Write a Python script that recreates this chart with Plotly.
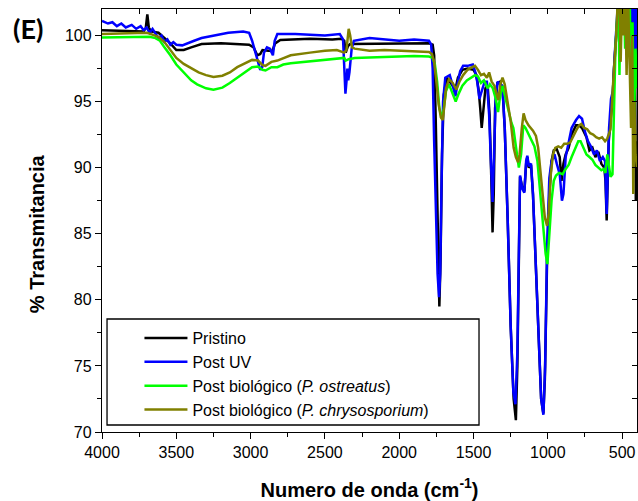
import plotly.graph_objects as go

# ---------------- data ----------------
wn_pristino = [4000, 3900, 3800, 3720, 3705, 3695, 3685, 3670, 3620, 3580, 3540, 3500, 3450, 3400, 3330,
               3200, 3100, 3010, 2980, 2955, 2935, 2920, 2880, 2855, 2835, 2800, 2600, 2450, 2390, 2370,
               2360, 2345, 2330, 2200, 2000, 1900, 1800, 1775, 1765, 1755, 1745, 1735, 1730, 1722, 1712,
               1700, 1680, 1660, 1640, 1622, 1605, 1575, 1540, 1500, 1480, 1465, 1455, 1445, 1435, 1420,
               1405, 1392, 1380, 1372, 1364, 1355, 1340, 1322, 1305, 1290, 1270, 1250, 1230, 1215, 1205,
               1195, 1187, 1172, 1158, 1146, 1138, 1128, 1113, 1100, 1080, 1060, 1045, 1030, 1020, 1005,
               990, 975, 960, 940, 920, 908, 895, 880, 860, 840, 810, 790, 770, 740, 720,
               700, 680, 660, 640, 620, 612, 604, 598, 590, 578, 565, 555, 545, 535, 525,
               515, 505, 495, 485, 475, 465, 455, 445, 435, 425, 415, 408, 400]
t_pristino = [100.4, 100.35, 100.3, 100.3, 100.6, 101.6, 100.6, 100.3, 100.2, 99.8, 99.4, 98.9, 98.9, 99.1, 99.35,
              99.4, 99.35, 99.3, 99.1, 98.5, 98.6, 98.9, 98.85, 98.8, 99.4, 99.65, 99.75, 99.7, 99.75, 99.6,
              98.7, 99.2, 99.35, 99.35, 99.4, 99.35, 99.4, 99.3, 98.5, 94.0, 87.0, 80.5, 79.5, 83.0, 91.0,
              95.5, 96.8, 96.5, 96.2, 95.9, 96.8, 97.4, 97.5, 97.4, 97.0, 95.8, 94.5, 93.0, 94.2, 96.0,
              96.2, 94.0, 89.0, 85.1, 88.0, 94.5, 96.4, 96.5, 96.0, 93.0, 86.0, 78.0, 72.5, 70.9, 75.0,
              85.0, 89.3, 88.5, 88.2, 90.3, 90.8, 90.0, 90.2, 88.0, 82.0, 76.0, 72.5, 71.4, 74.0, 83.0,
              88.0, 90.5, 91.3, 91.4, 90.8, 89.0, 90.3, 91.0, 91.5, 92.5, 93.2, 93.2, 93.0, 92.3, 91.3,
              91.5, 90.8, 91.2, 90.3, 90.0, 89.0, 86.0, 89.0, 92.0, 93.6, 95.0, 97.5, 99.5, 101.5, 103.0,
              104.0, 103.0, 101.0, 104.0, 102.0, 104.0, 103.0, 99.0, 104.0, 97.0, 103.0, 87.5, 92.0]

wn_uv = [4000, 3960, 3930, 3900, 3870, 3840, 3800, 3770, 3740, 3720, 3700, 3680, 3660, 3640, 3620,
         3600, 3580, 3560, 3540, 3520, 3500, 3460, 3420, 3380, 3330, 3250, 3150, 3050, 3010, 2990,
         2970, 2950, 2935, 2922, 2910, 2890, 2870, 2850, 2838, 2820, 2700, 2500, 2400, 2378, 2370,
         2362, 2355, 2349, 2343, 2335, 2320, 2305, 2200, 2100, 2000, 1900, 1800, 1785, 1775, 1765,
         1752, 1742, 1732, 1724, 1715, 1705, 1690, 1660, 1640, 1622, 1610, 1590, 1570, 1540, 1505,
         1490, 1475, 1460, 1450, 1440, 1425, 1410, 1395, 1385, 1372, 1362, 1350, 1338, 1322, 1306,
         1290, 1270, 1250, 1232, 1218, 1205, 1195, 1187, 1172, 1158, 1146, 1138, 1128, 1113, 1100,
         1080, 1060, 1045, 1030, 1018, 1005, 990, 975, 955, 940, 920, 905, 895, 880, 860,
         840, 810, 790, 770, 750, 730, 710, 690, 670, 650, 630, 615, 604, 597, 588,
         575, 562, 550, 540, 530, 520, 510, 500, 490, 480, 470, 460, 450, 440, 430,
         420, 412, 405, 400]
t_uv = [101.1, 100.9, 101.0, 100.7, 100.9, 100.6, 100.8, 100.5, 100.7, 100.4, 100.6, 100.2, 100.5, 100.1, 99.8,
        100.0, 99.5, 99.7, 99.3, 99.5, 99.3, 99.25, 99.4, 99.6, 99.8, 100.0, 100.2, 100.3, 100.2, 99.6,
        98.8, 98.2, 97.4, 97.6, 98.7, 99.1, 99.0, 98.5, 99.6, 100.1, 100.1, 100.0, 100.1, 99.7, 98.0,
        95.6, 96.5, 97.5, 96.6, 97.2, 99.0, 99.6, 99.8, 99.7, 99.6, 99.7, 99.6, 99.3, 97.5, 92.0,
        86.0, 82.0, 80.2, 82.0, 89.0, 95.0, 96.8, 97.0, 96.2, 95.4, 96.2, 97.3, 97.7, 97.7, 97.8,
        97.3, 96.5, 95.2, 95.6, 95.9, 96.5, 96.5, 94.0, 91.0, 87.4, 91.0, 95.5, 96.5, 96.3, 96.2,
        93.0, 86.0, 78.0, 73.0, 72.1, 76.0, 84.0, 89.4, 88.4, 88.1, 90.5, 90.9, 90.1, 90.3, 88.0,
        82.0, 76.0, 72.5, 71.3, 75.0, 84.0, 89.2, 90.5, 91.0, 90.3, 89.5, 87.5, 88.0, 90.8, 91.8,
        93.0, 93.6, 93.9, 93.7, 92.7, 92.0, 91.6, 91.0, 91.3, 90.5, 90.8, 90.5, 86.5, 89.5, 93.0,
        95.2, 95.8, 98.5, 101.0, 103.0, 104.0, 103.0, 104.0, 102.0, 104.0, 103.0, 104.0, 102.0, 104.0, 101.0,
        103.0, 96.0, 102.0, 100.0]

wn_ostreatus = [4000, 3900, 3800, 3680, 3640, 3610, 3580, 3540, 3500, 3450, 3400, 3360, 3300, 3250, 3190,
                3140, 3090, 3040, 2990, 2950, 2920, 2900, 2860, 2820, 2780, 2730, 2600, 2500, 2400, 2370,
                2360, 2340, 2300, 2200, 2100, 2000, 1900, 1800, 1775, 1760, 1745, 1730, 1712, 1700, 1685,
                1665, 1640, 1620, 1600, 1575, 1545, 1510, 1490, 1470, 1450, 1430, 1405, 1390, 1370, 1350,
                1335, 1320, 1305, 1290, 1265, 1245, 1232, 1215, 1195, 1180, 1165, 1150, 1130, 1110, 1090,
                1070, 1050, 1030, 1015, 1003, 990, 975, 960, 945, 925, 900, 880, 860, 840, 815,
                795, 780, 760, 740, 720, 700, 680, 660, 640, 625, 612, 600, 590, 578, 565,
                555, 545, 535, 525, 518, 510, 500, 490, 480, 470, 460, 450, 440, 430, 420,
                410, 400]
t_ostreatus = [99.85, 99.85, 99.9, 99.9, 99.8, 99.6, 99.1, 98.5, 97.8, 97.2, 96.6, 96.3, 96.0, 95.9, 96.05,
               96.4, 96.8, 97.2, 97.6, 97.65, 97.4, 97.35, 97.6, 97.6, 97.8, 97.9, 98.05, 98.15, 98.25, 98.3,
               98.1, 98.2, 98.3, 98.35, 98.4, 98.4, 98.45, 98.4, 98.3, 97.8, 96.5, 94.5, 93.7, 94.5, 95.8,
               96.3, 95.6, 95.0, 95.6, 96.2, 96.6, 96.9, 97.0, 96.9, 96.4, 96.6, 96.0, 96.3, 96.0, 95.2,
               94.2, 95.5, 96.2, 95.5, 94.2, 93.4, 93.0, 91.5, 90.0, 91.0, 93.2, 93.0, 92.5, 92.0, 91.6,
               90.5, 88.0, 85.0, 83.5, 82.7, 85.0, 87.5, 89.0, 89.4, 89.6, 89.5, 89.9, 90.2, 90.8, 91.5,
               92.0, 92.0, 91.5, 91.0, 90.8, 90.6, 90.2, 90.0, 89.8, 89.9, 89.6, 91.0, 90.0, 89.3, 89.5,
               95.0, 99.0, 101.0, 103.0, 97.0, 103.0, 101.0, 104.0, 99.0, 103.0, 100.0, 104.0, 95.0, 101.0, 93.0,
               99.0, 96.0]

wn_chrysosporium = [4000, 3900, 3800, 3700, 3670, 3620, 3580, 3540, 3500, 3450, 3400, 3350, 3300, 3250, 3190,
                    3140, 3090, 3040, 2990, 2950, 2920, 2900, 2860, 2820, 2780, 2730, 2600, 2500, 2420, 2390,
                    2370, 2355, 2340, 2330, 2318, 2300, 2200, 2100, 2000, 1900, 1800, 1780, 1765, 1750, 1735,
                    1720, 1708, 1698, 1685, 1665, 1640, 1615, 1595, 1570, 1540, 1510, 1490, 1470, 1450, 1430,
                    1410, 1395, 1378, 1360, 1345, 1333, 1320, 1305, 1290, 1270, 1250, 1230, 1215, 1200, 1190,
                    1175, 1163, 1150, 1130, 1100, 1080, 1065, 1050, 1035, 1020, 1005, 995, 980, 965, 950,
                    930, 910, 890, 870, 850, 830, 810, 790, 775, 755, 735, 715, 695, 675, 655,
                    635, 615, 600, 590, 578, 565, 550, 540, 530, 520, 510, 500, 490, 480, 470,
                    460, 450, 440, 432, 425, 418, 410, 400]
t_chrysosporium = [100.1, 100.15, 100.2, 100.2, 100.1, 99.9, 99.5, 98.9, 98.3, 97.85, 97.5, 97.2, 97.0, 96.85, 96.95,
                   97.2, 97.6, 97.9, 98.15, 98.1, 97.75, 97.7, 98.0, 98.1, 98.3, 98.5, 98.7, 98.85, 98.9, 98.8,
                   98.7, 98.9, 100.5, 100.0, 99.1, 99.0, 98.85, 98.9, 98.85, 98.8, 98.75, 98.6, 98.0, 96.5, 94.8,
                   93.8, 93.6, 94.5, 96.0, 96.7, 96.4, 95.9, 96.5, 97.0, 97.4, 97.6, 97.7, 97.4, 97.0, 97.1,
                   96.8, 97.2, 96.5, 96.2, 95.5, 95.1, 96.3, 96.8, 96.3, 95.0, 93.5, 91.5, 90.8, 90.4, 91.0,
                   93.0, 94.1, 93.6, 93.2, 92.8, 92.4, 91.5, 90.0, 88.0, 86.2, 85.6, 86.5, 89.5, 91.0, 91.5,
                   91.6, 91.5, 91.8, 91.8, 91.9, 92.4, 92.8, 93.2, 93.3, 93.0, 92.9, 92.6, 92.5, 92.3, 92.2,
                   92.3, 92.0, 92.2, 92.5, 92.9, 95.6, 98.0, 100.0, 102.5, 104.0, 98.0, 103.0, 100.0, 104.0, 97.0,
                   103.0, 98.0, 93.0, 100.0, 88.0, 95.0, 91.0, 90.0]

series_names = ["Pristino", "Post UV",
                "Post biológico (<i>P. ostreatus</i>)",
                "Post biológico (<i>P. chrysosporium</i>)"]
series_x = [wn_pristino, wn_uv, wn_ostreatus, wn_chrysosporium]
series_y = [t_pristino, t_uv, t_ostreatus, t_chrysosporium]
series_colors = ["#000000", "#0000ff", "#00ff00", "#808000"]

x_ticks = [4000, 3500, 3000, 2500, 2000, 1500, 1000, 500]
y_ticks = [70, 75, 80, 85, 90, 95, 100]

# ---------------- figure ----------------
FONT = "Liberation Sans, Arial, sans-serif"
fig = go.Figure()
for name, xs, ys, col in zip(series_names, series_x, series_y, series_colors):
    fig.add_trace(go.Scatter(x=xs, y=ys, mode="lines", name=name,
                             line=dict(color=col, width=2.5)))

# dummy trace to activate the mirrored (top / right) axes with inward ticks
fig.add_trace(go.Scatter(x=[4000], y=[70], xaxis="x2", yaxis="y2", mode="lines",
                         showlegend=False, hoverinfo="skip"))

axis_common = dict(showgrid=False, zeroline=False, showline=True, linecolor="black",
                   linewidth=1.3, automargin=False)

fig.update_layout(
    template="none",
    width=638, height=501,
    margin=dict(l=102, r=1, t=9, b=69),
    paper_bgcolor="white", plot_bgcolor="white",
    font=dict(family=FONT, size=16, color="black"),
    xaxis=dict(range=[4000, 400], tickvals=x_ticks, ticks="outside", ticklen=6, tickwidth=1.3,
               tickcolor="black", tickfont=dict(size=16),
               minor=dict(dtick=250, tick0=0, ticks="outside", ticklen=4, tickwidth=1.3, tickcolor="black"),
               title=dict(text="<b>Numero de onda (cm<sup>-1</sup>)</b>", font=dict(size=20), standoff=22),
               **axis_common),
    yaxis=dict(range=[70, 102], tickvals=y_ticks, ticks="outside", ticklen=6, tickwidth=1.3,
               tickcolor="black", tickfont=dict(size=16),
               minor=dict(dtick=2.5, tick0=0, ticks="outside", ticklen=4, tickwidth=1.3, tickcolor="black"),
               **axis_common),
    xaxis2=dict(range=[4000, 400], overlaying="x", side="top", anchor="y2", showticklabels=False,
                dtick=250, tick0=0, ticks="inside", ticklen=5, tickwidth=1.3, tickcolor="black",
                **axis_common),
    yaxis2=dict(range=[70, 102], overlaying="y", side="right", anchor="x2", showticklabels=False,
                dtick=2.5, tick0=0, ticks="inside", ticklen=5, tickwidth=1.3, tickcolor="black",
                **axis_common),
    legend=dict(x=0.07, y=0.262, xanchor="left", yanchor="top", bgcolor="rgba(0,0,0,0)",
                borderwidth=0, font=dict(size=16, family=FONT), itemwidth=43, tracegroupgap=0),
    showlegend=True,
)

# legend frame (Origin-style wide box)
fig.add_shape(type="rect", xref="paper", yref="paper", x0=0.0094, x1=0.7047, y0=0.0166, y1=0.2671,
              line=dict(color="black", width=1.3), fillcolor="rgba(0,0,0,0)", layer="above")

# y-axis title and panel label
fig.add_annotation(text="<b>% Transmitancia</b>", xref="paper", yref="paper", x=-0.1215, y=0.47,
                   textangle=-90, showarrow=False, font=dict(size=20, family=FONT),
                   xanchor="center", yanchor="middle")
fig.add_annotation(text="<b>(E)</b>", xref="paper", yref="paper", x=-0.138, y=0.955,
                   showarrow=False, font=dict(size=27, family="Lato, Liberation Sans, sans-serif"),
                   xanchor="center", yanchor="middle")

fig.write_html("out.html", config={"displayModeBar": False},
               post_script="document.body.style.margin='0';")
